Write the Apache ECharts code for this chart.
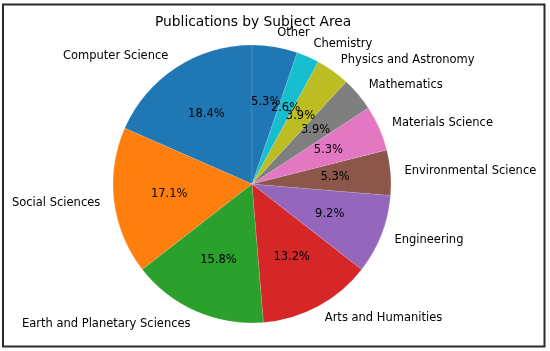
<!DOCTYPE html>
<html>
<head>
<meta charset="utf-8">
<script src="https://cdn.jsdelivr.net/npm/echarts@6/dist/echarts.min.js"></script>
<style>
html,body{margin:0;padding:0;background:#fff;}
#chart{width:550px;height:351px;}
</style>
</head>
<body>
<div id="chart"></div>
<script>
const categories = ["Computer Science","Social Sciences","Earth and Planetary Sciences","Arts and Humanities","Engineering","Environmental Science","Materials Science","Mathematics","Physics and Astronomy","Chemistry","Other"];
const values = [14,13,12,10,7,4,4,3,3,2,4];
const colors = ["#1f77b4","#ff7f0e","#2ca02c","#d62728","#9467bd","#8c564b","#e377c2","#7f7f7f","#bcbd22","#17becf","#1f77b4"];
const titleText = "Publications by Subject Area";

const FONT = "DejaVu Sans";
const R = 139;
const CX = 252, CY = 184;

const pieData = categories.map((c, i) => ({name: c, value: values[i], itemStyle: {color: colors[i]}}));
const labelData = categories.map((c, i) => ({name: c, value: values[i]}));

const chart = echarts.init(document.getElementById('chart'), null, {renderer: 'canvas'});
chart.setOption({
  animation: false,
  backgroundColor: '#fff',
  title: {
    text: titleText,
    left: 150,
    top: 10,
    textStyle: {fontFamily: FONT, fontSize: 13.8, fontWeight: 'normal', color: '#000'}
  },
  graphic: [{
    type: 'rect',
    shape: {x: 3, y: 4.5, width: 541.5, height: 342},
    style: {fill: 'none', stroke: '#2b2b2b', lineWidth: 2},
    silent: true
  }],
  series: [
    {
      type: 'pie',
      center: [CX, CY],
      radius: [0, R],
      startAngle: 90,
      clockwise: false,
      avoidLabelOverlap: false,
      percentPrecision: 1,
      data: pieData,
      itemStyle: {borderColor: 'rgba(255,255,255,0.25)', borderWidth: 0.5},
      label: {
        show: true,
        position: 'outside',
        formatter: '{b}',
        fontFamily: FONT,
        fontSize: 11.5,
        color: '#000',
        distanceToLabelLine: 0
      },
      labelLine: {show: false, length: R * 0.1, length2: 0},
      emphasis: {disabled: true},
      silent: true
    },
    {
      type: 'pie',
      center: [CX, CY],
      radius: [0, R * 0.6],
      startAngle: 90,
      clockwise: false,
      avoidLabelOverlap: false,
      percentPrecision: 1,
      data: labelData,
      itemStyle: {color: 'rgba(0,0,0,0)'},
      label: {
        show: true,
        position: 'outside',
        formatter: '{d}%',
        fontFamily: FONT,
        fontSize: 11.5,
        color: '#000',
        distanceToLabelLine: 0
      },
      labelLine: {show: false, length: 0, length2: 0},
      labelLayout: {align: 'center', verticalAlign: 'middle', hideOverlap: false},
      emphasis: {disabled: true},
      silent: true,
      z: 5
    }
  ]
});
</script>
</body>
</html>
